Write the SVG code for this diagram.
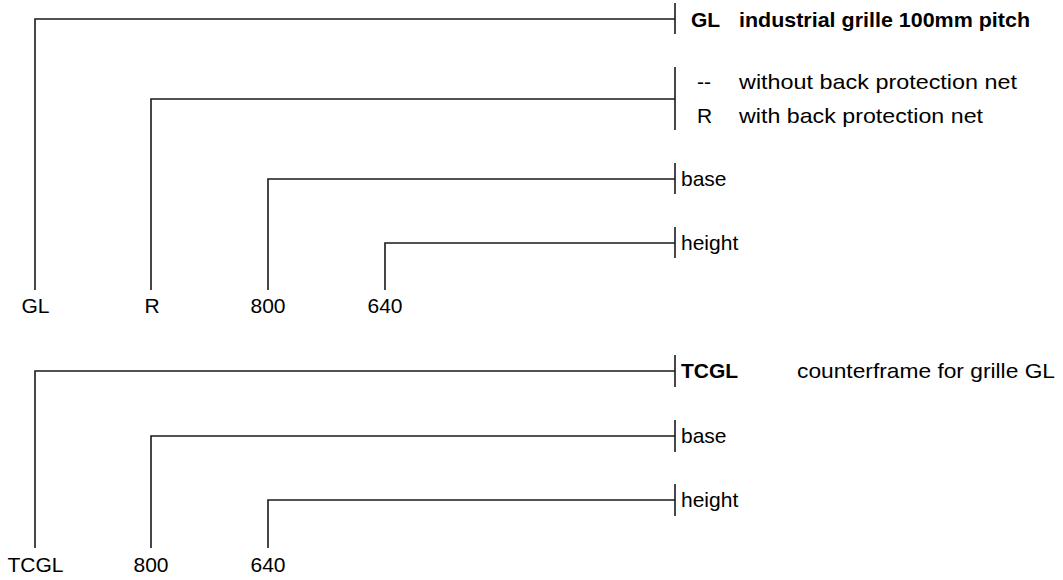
<svg xmlns="http://www.w3.org/2000/svg" width="1063" height="580" viewBox="0 0 1063 580">
<style>
.c{fill:none;stroke:#1a1a1a;stroke-width:1.6}
.t{font-family:"Liberation Sans",Arial,sans-serif;font-size:21px;fill:#000}
.b{font-weight:bold}
.m{text-anchor:middle}
</style>
<rect width="1063" height="580" fill="#fff"/>
<g id="connectors">
<polyline class="c" points="35,290 35,19 675,19"/>
<line class="c" x1="675" y1="3" x2="675" y2="34"/>
<polyline class="c" points="151,290 151,99 675,99"/>
<line class="c" x1="675" y1="67" x2="675" y2="130"/>
<polyline class="c" points="268,290 268,179 675,179"/>
<line class="c" x1="675" y1="163" x2="675" y2="194"/>
<polyline class="c" points="385,290 385,243 675,243"/>
<line class="c" x1="675" y1="227" x2="675" y2="258"/>
<polyline class="c" points="35,548 35,371 675,371"/>
<line class="c" x1="675" y1="355" x2="675" y2="387"/>
<polyline class="c" points="151,548 151,436 675,436"/>
<line class="c" x1="675" y1="420" x2="675" y2="452"/>
<polyline class="c" points="268,548 268,500 675,500"/>
<line class="c" x1="675" y1="484" x2="675" y2="516"/>
</g>
<g id="code-GL">
<text class="t m" x="35.5" y="313">GL</text>
<text class="t b" x="691" y="27">GL</text>
<text class="t b" x="739" y="27" textLength="291" lengthAdjust="spacingAndGlyphs">industrial grille 100mm pitch</text>
</g>
<g id="code-R">
<text class="t m" x="152" y="313">R</text>
<text class="t" x="697" y="89">--</text>
<text class="t" x="739" y="89" textLength="278" lengthAdjust="spacingAndGlyphs">without back protection net</text>
<text class="t" x="697" y="123">R</text>
<text class="t" x="739" y="123" textLength="244" lengthAdjust="spacingAndGlyphs">with back protection net</text>
</g>
<g id="code-base1">
<text class="t m" x="268" y="313">800</text>
<text class="t" x="681" y="186">base</text>
</g>
<g id="code-height1">
<text class="t m" x="385" y="313">640</text>
<text class="t" x="681" y="250">height</text>
</g>
<g id="code-TCGL">
<text class="t m" x="35.5" y="572">TCGL</text>
<text class="t b" x="681" y="378">TCGL</text>
<text class="t" x="797" y="378" textLength="258" lengthAdjust="spacingAndGlyphs">counterframe for grille GL</text>
</g>
<g id="code-base2">
<text class="t m" x="151" y="572">800</text>
<text class="t" x="681" y="443">base</text>
</g>
<g id="code-height2">
<text class="t m" x="268" y="572">640</text>
<text class="t" x="681" y="507">height</text>
</g>
</svg>
